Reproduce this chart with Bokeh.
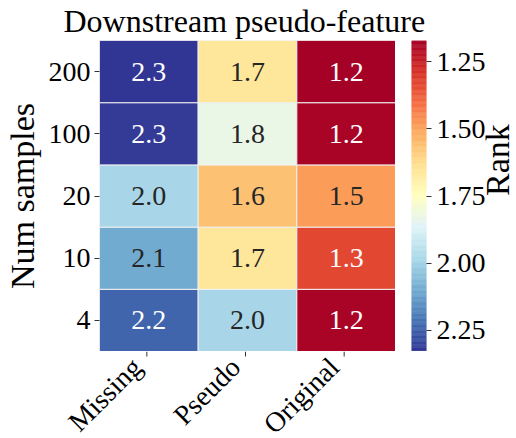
import numpy as np
from bokeh.plotting import figure
from bokeh.models import (ColumnDataSource, LinearColorMapper, FactorRange, Range1d,
                          FixedTicker, PrintfTickFormatter)
from bokeh.layouts import row, column
from bokeh.palettes import RdYlBu11
from bokeh.transform import transform
from bokeh.core.properties import value
from bokeh.embed import file_html
from bokeh.resources import INLINE

# ---- data ----
methods = ["Missing", "Pseudo", "Original"]
num_samples = ["4", "10", "20", "100", "200"]          # bottom -> top
rank_missing = [2.24, 2.10, 1.99, 2.32, 2.33]
rank_pseudo = [1.99, 1.66, 1.56, 1.83, 1.66]
rank_original = [1.18, 1.33, 1.49, 1.18, 1.17]
cbar_ticks = [1.25, 1.50, 1.75, 2.00, 2.25]

all_vals = rank_missing + rank_pseudo + rank_original
cbar_low = min(all_vals)
cbar_high = max(all_vals)

FONT = "Liberation Serif"
TITLE_H = 40
LEFT = 97
FRAME_W = 296
FRAME_H = 311
XLAB_H = 87
TICK = 5

# ---- palette (RdYlBu interpolated, low value = red) ----
def _hex2rgb(h):
    h = h.lstrip("#")
    return [int(h[i:i + 2], 16) for i in (0, 2, 4)]

base_hex = list(RdYlBu11)
if base_hex[0].lower() != "#a50026":
    base_hex = base_hex[::-1]
base = np.array([_hex2rgb(c) for c in base_hex], dtype=float)
pos = np.linspace(0, 1, len(base))
t = np.linspace(0, 1, 256)
interp = np.stack([np.interp(t, pos, base[:, k]) for k in range(3)], axis=1)
palette = ["#%02x%02x%02x" % tuple(int(round(c)) for c in rgb) for rgb in interp]

mapper = LinearColorMapper(palette=palette, low=cbar_low, high=cbar_high)

# ---- cell table ----
xs, ys, vs = [], [], []
for m, series in zip(methods, [rank_missing, rank_pseudo, rank_original]):
    for n, v in zip(num_samples, series):
        xs.append(m)
        ys.append(n)
        vs.append(v)
labels = ["%.1f" % v for v in vs]
tcolors = ["white" if (v >= 2.15 or v <= 1.4) else "#262626" for v in vs]
src = ColumnDataSource(dict(x=xs, y=ys, v=vs, label=labels, tc=tcolors))

# ---- title strip ----
tf = figure(width=516, height=TITLE_H, output_backend="svg", toolbar_location=None,
            x_axis_location=None, y_axis_location=None,
            min_border_left=0, min_border_right=0, min_border_top=0, min_border_bottom=0,
            title="Downstream pseudo-feature")
tf.grid.visible = False
tf.outline_line_color = None
tf.title.text_font = FONT
tf.title.text_font_size = "32px"
tf.title.text_font_style = "normal"
tf.title.text_color = "black"
tf.title.align = "left"
tf.title.offset = 63
tf.title.standoff = 0

# ---- main heatmap ----
p = figure(frame_width=FRAME_W, frame_height=FRAME_H,
           x_range=FactorRange(*methods), y_range=FactorRange(*num_samples),
           output_backend="svg", toolbar_location=None,
           x_axis_location=None,
           min_border_left=LEFT, min_border_right=0,
           min_border_top=0, min_border_bottom=0)
p.rect(x="x", y="y", width=1, height=1, source=src,
       fill_color=transform("v", mapper), line_color="#f0f0f0", line_width=1)
p.text(x="x", y="y", text="label", source=src, text_color="tc",
       text_align="center", text_baseline="middle",
       text_font=value(FONT), text_font_size="28px")

p.grid.visible = False
p.outline_line_color = None
ax = p.yaxis[0]
ax.axis_line_color = None
ax.major_tick_in = 0
ax.major_tick_out = TICK
ax.major_tick_line_color = "#333333"
ax.minor_tick_line_color = None
ax.major_label_text_font = FONT
ax.major_label_text_font_size = "28px"
ax.major_label_text_color = "black"
ax.major_label_standoff = 4
ax.axis_label = "Num samples"
ax.axis_label_text_font = FONT
ax.axis_label_text_font_size = "34px"
ax.axis_label_text_font_style = "normal"
ax.axis_label_text_color = "black"
ax.axis_label_standoff = 5

# ---- x tick labels strip (rotated, under the heatmap) ----
px_per_cat = FRAME_W / len(methods)
lf = figure(frame_width=LEFT + FRAME_W, frame_height=XLAB_H,
            x_range=Range1d(-LEFT / px_per_cat, len(methods)),
            y_range=Range1d(-XLAB_H, 0),
            output_backend="svg", toolbar_location=None,
            x_axis_location=None, y_axis_location=None,
            min_border_left=0, min_border_right=0, min_border_top=0, min_border_bottom=0)
lf.grid.visible = False
lf.outline_line_color = None
cat_x = [i + 0.5 for i in range(len(methods))]
lab_src = ColumnDataSource(dict(
    x=cat_x, tx=[c - 10 / px_per_cat for c in cat_x], name=methods))
lf.segment(x0="x", x1="x", y0=0, y1=-TICK, source=lab_src,
           line_color="#333333", line_width=1)
lf.text(x="tx", y=-11, text="name", source=lab_src, angle=np.pi / 4,
        text_align="right", text_baseline="middle",
        text_font=value(FONT), text_font_size="28px", text_color="black")

# ---- colour bar (inverted: low at top) ----
edges = np.linspace(cbar_low, cbar_high, 257)
cb_src = ColumnDataSource(dict(bottom=edges[:-1], top=edges[1:],
                               v=(edges[:-1] + edges[1:]) / 2))
cb = figure(frame_width=15, frame_height=FRAME_H, x_range=Range1d(0, 1),
            y_range=Range1d(cbar_high, cbar_low),
            output_backend="svg", toolbar_location=None,
            x_axis_location=None, y_axis_location="right",
            min_border_left=16, min_border_right=0,
            min_border_top=0, min_border_bottom=0)
cb.quad(left=0, right=1, bottom="bottom", top="top", source=cb_src,
        fill_color=transform("v", mapper), line_color=transform("v", mapper),
        line_width=0.5)
cb.grid.visible = False
cb.outline_line_color = None
ya = cb.yaxis[0]
ya.ticker = FixedTicker(ticks=cbar_ticks)
ya.formatter = PrintfTickFormatter(format="%.2f")
ya.axis_line_color = None
ya.major_tick_in = 0
ya.major_tick_out = TICK
ya.major_tick_line_color = "#333333"
ya.minor_tick_line_color = None
ya.major_label_text_font = FONT
ya.major_label_text_font_size = "28px"
ya.major_label_text_color = "black"
ya.major_label_standoff = 5
ya.axis_label = "Rank"
ya.axis_label_text_font = FONT
ya.axis_label_text_font_size = "34px"
ya.axis_label_text_font_style = "normal"
ya.axis_label_text_color = "black"
ya.axis_label_standoff = 9
if "axis_label_orientation" in ya.properties():
    ya.axis_label_orientation = np.pi / 2

layout = column(tf, row(p, cb), lf)
open("out.html", "w").write(file_html(layout, INLINE))
